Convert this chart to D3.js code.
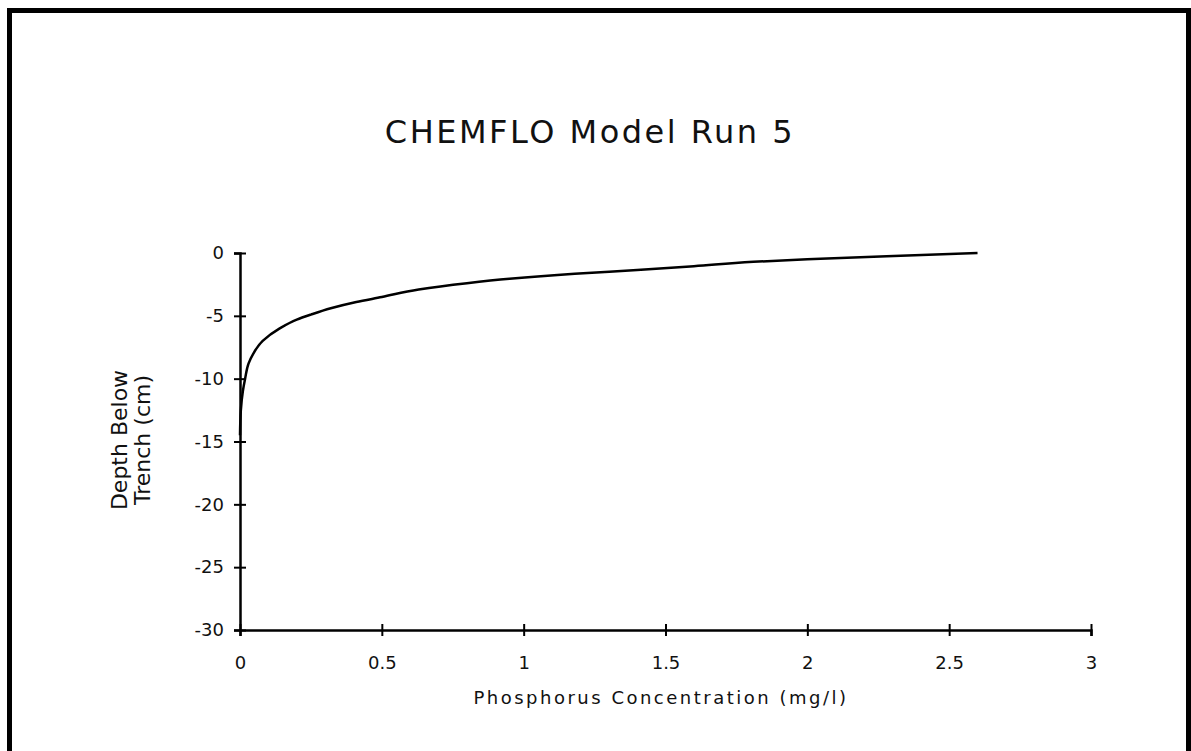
<!DOCTYPE html>
<html>
<head>
<meta charset="utf-8">
<script src="https://cdn.jsdelivr.net/npm/d3@7"></script>
<style>
  body { margin: 0; background: #fff; }
  svg text { font-family: "DejaVu Sans", sans-serif; fill: #111; }
</style>
</head>
<body>
<div id="chart"></div>
<script>
// Chart values
var concentration = [0.0, 0.003, 0.01, 0.018, 0.03, 0.047, 0.08, 0.14, 0.2, 0.25, 0.32, 0.41, 0.5, 0.63, 0.8, 0.95, 1.18, 1.4, 1.6, 1.81, 2.0, 2.28, 2.6];
var depth = [-14.5, -12.5, -11, -10, -8.8, -8.0, -7.0, -6.0, -5.3, -4.9, -4.4, -3.9, -3.5, -2.9, -2.4, -2.05, -1.65, -1.35, -1.05, -0.7, -0.5, -0.25, 0];
var xTicks = [0, 0.5, 1, 1.5, 2, 2.5, 3];
var yTicks = [0, -5, -10, -15, -20, -25, -30];

var svgWidth = 1191;
var svgHeight = 751;

var margin = { top: 253, left: 240 };

var svg = d3.select("#chart")
  .append("svg")
  .attr("width", svgWidth)
  .attr("height", svgHeight);

// page frame (bottom edge runs off the page like in the scan)
svg.append("rect")
  .attr("x", 9.5)
  .attr("y", 10.5)
  .attr("width", 1179)
  .attr("height", 800)
  .attr("fill", "none")
  .attr("stroke", "#000")
  .attr("stroke-width", 5);

var chartGroup = svg.append("g")
  .attr("transform", `translate(${margin.left}, ${margin.top})`);

var xScale = d3.scaleLinear()
  .domain([0, 3])
  .range([0, 851]);

var yScale = d3.scaleLinear()
  .domain([-30, 0])
  .range([377, 0]);

// plain hyphen for negatives, like the original
var fmt = d => String(d);

var bottomAxis = d3.axisBottom(xScale)
  .tickValues(xTicks)
  .tickSize(6)
  .tickPadding(20)
  .tickFormat(fmt);

var leftAxis = d3.axisLeft(yScale)
  .tickValues(yTicks)
  .tickSize(6)
  .tickPadding(10)
  .tickFormat(fmt);

var xAxisG = chartGroup.append("g")
  .attr("transform", `translate(0, ${yScale(-30)})`)
  .call(bottomAxis);

var yAxisG = chartGroup.append("g")
  .call(leftAxis);

// ticks cross the axis line
xAxisG.selectAll(".tick line").attr("y1", -6).attr("y2", 6);
yAxisG.selectAll(".tick line").attr("x1", -6).attr("x2", 6);

[xAxisG, yAxisG].forEach(function(g) {
  g.select(".domain").attr("stroke", "#000").attr("stroke-width", 2.5);
  g.selectAll(".tick line").attr("stroke", "#000").attr("stroke-width", 2);
  g.selectAll(".tick text")
    .style("font-size", "18px")
    .style("font-family", "'DejaVu Sans', sans-serif")
    .attr("fill", "#111");
});

// the depth profile
var line = d3.line()
  .x(d => xScale(d[0]))
  .y(d => yScale(d[1]))
  .curve(d3.curveMonotoneY);

chartGroup.append("path")
  .datum(d3.zip(concentration, depth))
  .attr("d", line)
  .attr("fill", "none")
  .attr("stroke", "#000")
  .attr("stroke-width", 2.5);

// Title
svg.append("text")
  .attr("x", 590)
  .attr("y", 143)
  .style("text-anchor", "middle")
  .style("font-size", "32px")
  .style("letter-spacing", "2.5px")
  .text("CHEMFLO Model Run 5");

// x axis label
svg.append("text")
  .attr("x", 661)
  .attr("y", 704)
  .style("text-anchor", "middle")
  .style("font-size", "18px")
  .style("letter-spacing", "2.5px")
  .text("Phosphorus Concentration (mg/l)");

// y axis label, two lines
var yLabel = svg.append("text")
  .attr("transform", "translate(127, 440) rotate(-90)")
  .style("text-anchor", "middle")
  .style("font-size", "22px");
yLabel.append("tspan").attr("x", 0).attr("dy", 0).text("Depth Below");
yLabel.append("tspan").attr("x", 0).attr("dy", "1.05em").text("Trench (cm)");
</script>
</body>
</html>
